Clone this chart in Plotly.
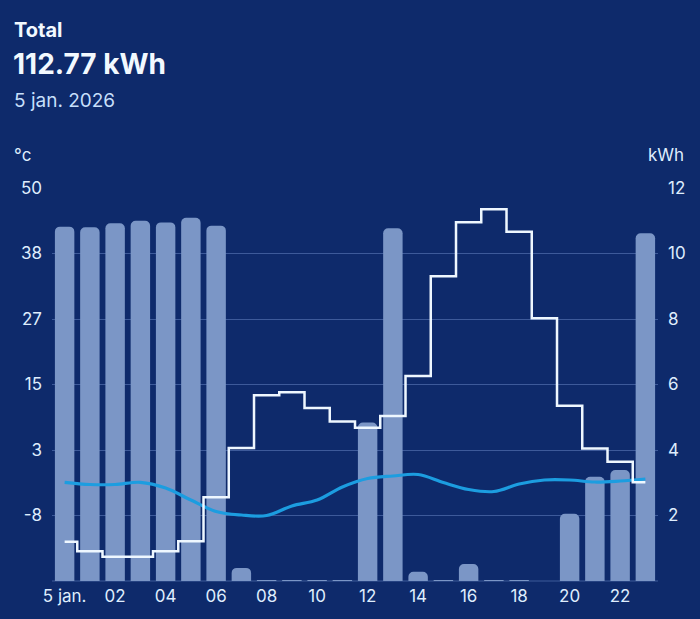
import plotly.graph_objects as go

hours = list(range(24))
x_tick_labels = ["5 jan.", "02", "04", "06", "08", "10", "12", "14", "16", "18", "20", "22"]

consumption_kwh = [10.82, 10.80, 10.92, 11.00, 10.95, 11.09, 10.85, 0.40,
                   0.03, 0.02, 0.02, 0.02, 4.84, 10.77, 0.28, 0.03,
                   0.52, 0.02, 0.03, 0.0, 2.05, 3.18, 3.39, 10.62]

price_step = [-13.0, -14.7, -15.7, -15.7, -14.7, -12.9, -5.1, 3.7,
              13.1, 13.6, 10.8, 8.4, 7.3, 9.4, 16.5, 34.3,
              43.9, 46.2, 42.2, 26.8, 11.2, 3.6, 1.25, -2.4]

temperature_c = [-2.42, -2.81, -2.81, -2.42, -3.44, -5.58, -7.62, -8.25,
                 -8.34, -6.64, -5.58, -3.26, -1.75, -1.30, -1.03, -2.46,
                 -3.70, -4.06, -2.72, -2.01, -2.01, -2.37, -2.19, -1.83]

left_tick_labels = ["-20", "-8", "3", "15", "27", "38", "50"]
right_tick_labels = ["0", "2", "4", "6", "8", "10", "12"]

BG = "#0e2a6b"
BAR = "#7b96c6"
GRID = "#3d5a9a"
TXT = "#dfedfd"
TS = 17

W, H = 700, 619
ML, MR, MT, MB = 52, 42, 188, 38
PW, PH = W - ML - MR, H - MT - MB

def px(xp):
    return (xp - ML) / PW

def py(yp):
    return (H - MB - yp) / PH

LMIN, LMAX = -20, 50
left_vals = [LMIN + k * (LMAX - LMIN) / 6 for k in range(7)]

fig = go.Figure()
fig.add_trace(go.Bar(x=hours, y=consumption_kwh, yaxis="y", marker=dict(color=BAR, line=dict(width=0)),
                     hoverinfo="skip"))
fig.add_trace(go.Scatter(x=hours, y=temperature_c, mode="lines", yaxis="y2",
                         line=dict(color="#1c9de0", width=3.2, shape="spline", smoothing=1.0)))
fig.add_trace(go.Scatter(x=hours, y=price_step, mode="lines", yaxis="y2",
                         line=dict(color="#eef7ff", width=2.5, shape="hvh")))

fig.update_layout(
    width=W, height=H,
    margin=dict(l=ML, r=MR, t=MT, b=MB, pad=0),
    paper_bgcolor=BG, plot_bgcolor=BG,
    showlegend=False,
    bargap=0.23,
    barcornerradius=5,
    font=dict(family="Inter", color=TXT, size=TS),
    xaxis=dict(range=[-0.5, 23.5], tickmode="array", tickvals=hours[::2], ticktext=x_tick_labels,
               showgrid=False, zeroline=False, showline=False, ticks="", tickfont=dict(size=TS, color=TXT),
               ticklabelstandoff=3),
    yaxis=dict(range=[0, 12], side="right", tickmode="array",
               tickvals=[int(v) for v in right_tick_labels[1:]], ticktext=right_tick_labels[1:],
               showgrid=True, gridcolor=GRID, gridwidth=1, zeroline=False, ticks="",
               tickfont=dict(size=TS, color=TXT), ticklabelstandoff=9),
    yaxis2=dict(range=[LMIN, LMAX], overlaying="y", side="left", tickmode="array",
                tickvals=left_vals[1:], ticktext=left_tick_labels[1:], showgrid=False,
                zeroline=False, ticks="", tickfont=dict(size=TS, color=TXT), ticklabelstandoff=9),
)
fig.add_shape(type="line", xref="paper", yref="paper", x0=0, x1=1, y0=0, y1=0,
              line=dict(color=GRID, width=1), layer="below")

annots = [
    dict(text="<b>Total</b>", x=px(12), y=py(30), size=20, color="#f2f9ff"),
    dict(text="<b>112.77 kWh</b>", x=px(11), y=py(64), size=28, color="#f2f9ff"),
    dict(text="5 jan. 2026", x=px(12), y=py(101), size=19, color="#c6dffa"),
    dict(text="°c", x=px(12), y=py(155), size=TS, color=TXT),
]
for a in annots:
    fig.add_annotation(text=a["text"], x=a["x"], y=a["y"], xref="paper", yref="paper",
                       xanchor="left", yanchor="middle", showarrow=False,
                       font=dict(size=a["size"], color=a["color"], family="Inter"))
fig.add_annotation(text="kWh", x=px(686), y=py(155), xref="paper", yref="paper",
                   xanchor="right", yanchor="middle", showarrow=False,
                   font=dict(size=TS, color=TXT, family="Inter"))

fig.write_html("out.html")
